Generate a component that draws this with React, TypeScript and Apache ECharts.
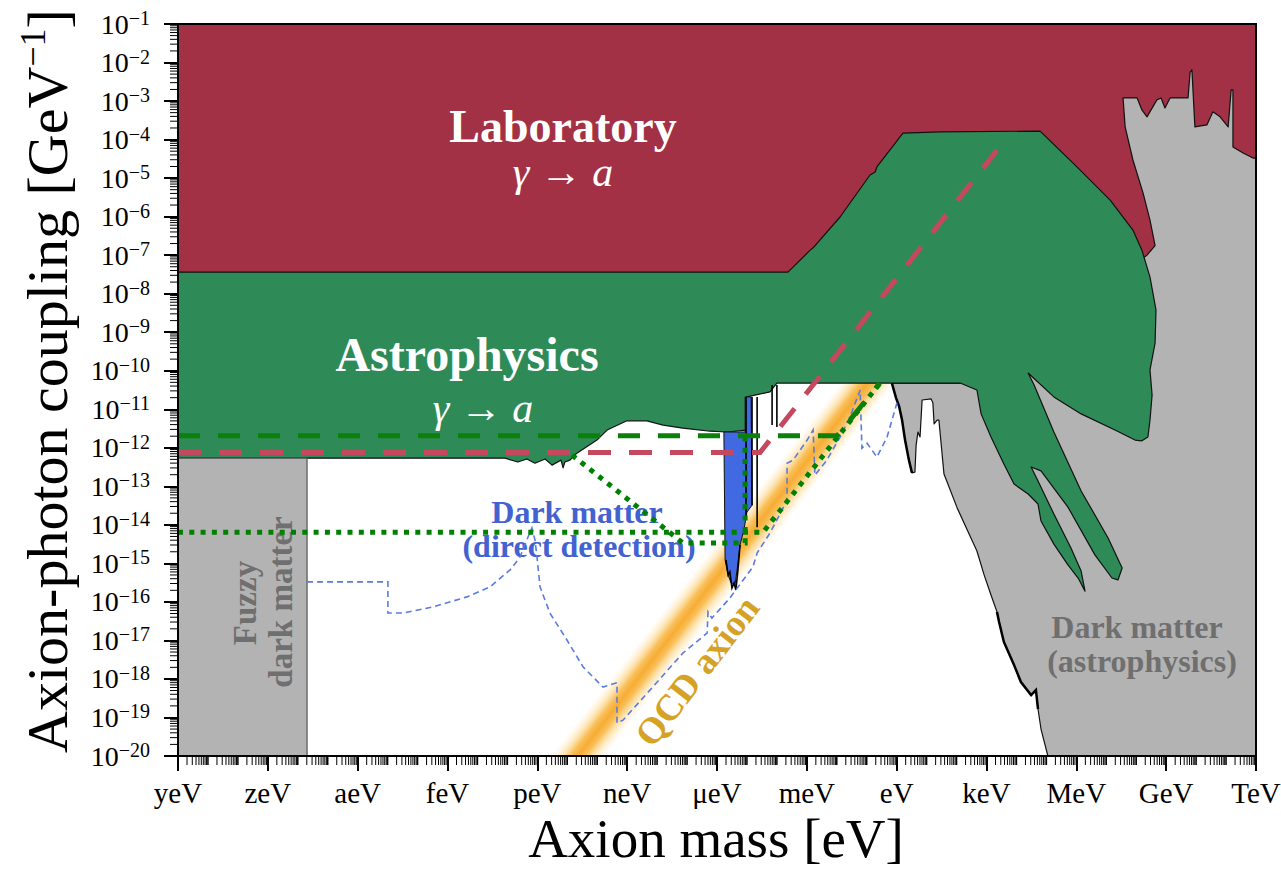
import React, { useEffect, useRef } from 'react';
import * as echarts from 'echarts';

const FONT = '"Liberation Serif", "DejaVu Serif", serif';

// Axes are in decades: x = log10(axion mass / eV), y = log10(coupling / GeV^-1)
const massRange = [-24, 12];
const couplingRange = [-20, -1];
const massTickNames = ['yeV', 'zeV', 'aeV', 'feV', 'peV', 'neV', 'μeV', 'meV', 'eV', 'keV', 'MeV', 'GeV', 'TeV'];

// Laboratory exclusion (photon regeneration, helioscopes, colliders); the lower
// part is covered by the astrophysical and dark-matter regions drawn on top.
const laboratoryRegion = [[-24, -1], [12, -1], [12, -9], [-24, -9]];

// Astrophysical bounds (stars, supernovae, X-ray/gamma observations)
const astrophysicsRegion = [
  [-24, -7.44], [-3.63, -7.44], [-3.46, -7.31], [-2.89, -6.87], [-2.79, -6.81], [-1.89, -6.01],
  [-0.89, -4.92], [-0.72, -4.84], [-0.66, -4.71], [0.21, -3.83], [1.45, -3.80], [4.79, -3.78],
  [6.02, -4.71], [7.13, -5.57], [7.89, -6.35], [8.19, -6.87], [8.46, -7.57], [8.66, -8.42],
  [8.63, -9.28], [8.46, -9.98], [8.53, -10.63], [8.46, -11.28], [8.39, -11.72], [8.19, -11.82],
  [7.96, -11.80], [7.29, -11.54], [6.16, -11.12], [5.25, -10.68], [4.39, -10.06], [4.59, -10.37],
  [5.25, -11.59], [6.16, -13.12], [7.06, -14.34], [7.53, -15.12], [7.39, -15.43], [7.19, -15.38],
  [6.62, -14.78], [5.72, -13.54], [4.82, -12.60], [4.49, -12.50], [4.72, -12.86], [5.25, -13.72],
  [5.82, -14.60], [6.16, -15.20], [6.29, -15.72], [6.06, -15.38], [5.72, -15.04], [5.25, -14.50],
  [4.82, -13.90], [4.72, -13.46], [4.39, -13.20], [3.92, -12.94], [3.58, -12.42], [3.15, -11.72],
  [2.82, -11.12], [2.68, -10.50], [2.12, -10.32], [-4.00, -10.32], [-4.23, -10.55], [-5.00, -10.68],
  [-5.03, -11.54], [-5.67, -11.59], [-6.23, -11.57], [-7.14, -11.49], [-7.80, -11.41], [-8.34, -11.30],
  [-9.01, -11.30], [-9.67, -11.54], [-10.01, -11.80], [-10.68, -12.14], [-10.91, -12.32],
  [-11.08, -12.37], [-11.14, -12.52], [-11.21, -12.32], [-11.51, -12.45], [-11.74, -12.29],
  [-12.08, -12.40], [-12.35, -12.29], [-12.65, -12.37], [-13.08, -12.27], [-24, -12.27],
];

// Dark matter decaying / stimulated-emission bounds (astrophysics)
const darkMatterAstroRegion = [
  [-0.16, -10.32], [-0.02, -10.71], [0.08, -10.92], [0.18, -11.28], [0.28, -11.80], [0.41, -12.32],
  [0.51, -12.65], [0.61, -12.63], [0.65, -11.93], [0.71, -11.59], [0.78, -11.72], [0.85, -10.76],
  [1.15, -10.73], [1.21, -10.84], [1.25, -11.38], [1.35, -11.28], [1.41, -11.28], [1.58, -12.68],
  [2.02, -13.56], [2.48, -14.34], [2.68, -14.68], [2.92, -15.30], [3.15, -15.82], [3.35, -16.26],
  [3.42, -16.52], [3.58, -17.04], [3.92, -17.64], [4.15, -18.08], [4.49, -18.42], [4.65, -18.29],
  [4.72, -18.78], [4.82, -19.30], [5.05, -20], [12, -20], [12, -4.48], [11.90, -4.48], [11.57, -4.35],
  [11.23, -4.19], [11.23, -2.71], [11.17, -2.71], [11.07, -3.67], [10.80, -3.41], [10.56, -3.28],
  [10.36, -3.62], [9.96, -3.67], [9.86, -2.19], [9.80, -2.25], [9.73, -2.92], [9.13, -2.92],
  [8.96, -3.18], [8.83, -2.92], [8.69, -2.97], [8.36, -3.41], [8.19, -3.23], [8.03, -2.92],
  [7.56, -2.92], [7.63, -3.67], [7.89, -4.53], [8.23, -5.39], [8.46, -6.09], [8.63, -6.75],
  [8.36, -7.00], [2.12, -10.32],
];

// Fuzzy dark matter (too light to be all of the dark matter)
const fuzzyRegion = [[-24, -20], [-19.69, -20], [-19.69, -12.27], [-24, -12.27]];

// Haloscope direct-detection exclusions
const haloscopeRegion = [
  [-5.77, -11.59], [-5.06, -11.59], [-5.06, -10.68], [-4.86, -10.68], [-4.83, -13.49], [-5.00, -13.67],
  [-5.10, -14.13], [-5.23, -14.52], [-5.33, -15.17], [-5.40, -15.56], [-5.53, -15.51], [-5.63, -15.30],
  [-5.73, -14.91],
];

// Narrow haloscope limits and jagged edges drawn as thin black traces
const haloscopeTraces = [
  [[-5.03, -10.68], [-5.03, -13.87]],
  [[-4.83, -10.68], [-4.83, -13.49]],
  [[-4.66, -10.68], [-4.66, -14.06]],
  [[-4.16, -10.37], [-4.16, -11.41]],
  [[-4.00, -10.37], [-4.00, -11.46]],
  [[-5.70, -14.91], [-5.63, -15.30], [-5.57, -15.22], [-5.50, -15.64], [-5.43, -15.51], [-5.37, -15.69], [-5.30, -15.17], [-5.23, -14.52]],
];
const darkMatterTraces = [
  [[-0.16, -10.32], [-0.02, -10.71], [0.08, -10.92], [0.18, -11.28], [0.28, -11.80], [0.41, -12.32], [0.51, -12.65]],
  [[3.35, -16.26], [3.42, -16.52], [3.58, -17.04], [3.92, -17.64], [4.15, -18.08], [4.49, -18.42], [4.65, -18.29], [4.72, -18.78]],
];

// QCD axion band: centre line end points and half width (in mass decades)
const qcdBandCentre = [[-0.97, -10.32], [-11.65, -21]];
const qcdBandHalfWidth = 0.9;

// Future sensitivities
const labProjection = [[-24, -12.12], [-4.56, -12.12], [3.62, -4.01]];
const astroProjection = [[-24, -11.69], [-1.99, -11.69], [-0.56, -10.32]];
const dmProjectionA = [[-24, -14.19], [-4.46, -14.19], [-0.56, -10.32]];
const dmProjectionB = [[-10.84, -12.19], [-7.14, -14.47], [-5.06, -14.47], [-5.06, -11.62]];
const haloscopeProjection = [
  [-19.69, -15.48], [-16.99, -15.48], [-16.99, -16.29], [-16.49, -16.29], [-15.48, -16.13], [-14.35, -15.87],
  [-13.58, -15.61], [-12.91, -15.17], [-12.58, -14.84], [-12.35, -14.39], [-12.18, -14.08], [-12.08, -14.39],
  [-12.01, -14.84], [-11.91, -15.61], [-11.58, -16.29], [-11.01, -16.99], [-10.47, -17.69], [-9.81, -18.21],
  [-9.34, -18.10], [-9.34, -19.14], [-9.14, -19.07], [-8.24, -18.29], [-7.14, -17.33], [-6.33, -16.81],
  [-6.30, -16.26], [-6.17, -16.42], [-5.57, -15.90], [-4.80, -15.09], [-4.66, -14.73], [-4.23, -14.21],
  [-4.00, -13.87], [-3.66, -13.36], [-3.66, -12.40], [-3.46, -12.32], [-2.99, -11.80], [-2.79, -11.54],
  [-2.73, -12.71], [-2.33, -12.32], [-1.89, -11.72], [-1.56, -11.20], [-1.22, -10.50], [-1.16, -12.01],
  [-0.99, -11.88], [-0.66, -12.24], [-0.32, -11.72], [0.05, -10.73],
];

const RED = '#a33145';
const GREEN = '#2e8b57';
const GREY = '#b3b3b3';

function regionSeries(pts: number[][], fill: string, stroke?: string, lineWidth?: number) {
  return {
    type: 'custom',
    silent: true,
    clip: true,
    z: 2,
    data: pts,
    renderItem: (params: any, api: any) => {
      if (params.dataIndex !== 0) return null;
      return {
        type: 'polygon',
        shape: { points: pts.map((p) => api.coord(p)) },
        style: { fill, stroke: stroke || 'none', lineWidth: lineWidth || 0, lineJoin: 'round' },
      };
    },
  };
}

function lineSeries(pts: number[][], color: string, width: number, dash: any, z = 4) {
  return {
    type: 'line',
    data: pts,
    symbol: 'none',
    showSymbol: false,
    silent: true,
    clip: true,
    z,
    lineStyle: { color, width, type: dash, cap: 'butt', join: 'miter' },
  };
}

const bandSeries = {
  type: 'custom',
  silent: true,
  clip: true,
  z: 2,
  data: qcdBandCentre,
  renderItem: (params: any, api: any) => {
    if (params.dataIndex !== 0) return null;
    const [a, b] = qcdBandCentre;
    const w = qcdBandHalfWidth;
    const pts = [[a[0] - w, a[1]], [b[0] - w, b[1]], [b[0] + w, b[1]], [a[0] + w, a[1]]].map((p) => api.coord(p));
    const pa = api.coord(a);
    const pb = api.coord(b);
    const dx = pb[0] - pa[0];
    const dy = pb[1] - pa[1];
    const len = Math.hypot(dx, dy);
    const nx = -dy / len;
    const ny = dx / len;
    const hw = api.coord([a[0] + w, a[1]])[0] - pa[0];
    const ph = (hw * Math.abs(dy)) / len;
    const mx = (pa[0] + pb[0]) / 2;
    const my = (pa[1] + pb[1]) / 2;
    const grad = new echarts.graphic.LinearGradient(
      mx - nx * ph, my - ny * ph, mx + nx * ph, my + ny * ph,
      [
        { offset: 0, color: 'rgba(255,224,160,0)' },
        { offset: 0.18, color: 'rgba(253,210,125,0.45)' },
        { offset: 0.36, color: 'rgba(249,186,75,0.92)' },
        { offset: 0.5, color: 'rgba(247,172,52,1)' },
        { offset: 0.64, color: 'rgba(249,186,75,0.92)' },
        { offset: 0.82, color: 'rgba(253,210,125,0.45)' },
        { offset: 1, color: 'rgba(255,224,160,0)' },
      ],
      true
    );
    return { type: 'polygon', shape: { points: pts }, style: { fill: grad } };
  },
};

// Log-spaced minor ticks and the frame around the plotting area
const tickSeries = {
  type: 'custom',
  silent: true,
  clip: false,
  z: 6,
  data: [[massRange[0], couplingRange[0]]],
  renderItem: (params: any, api: any) => {
    if (params.dataIndex !== 0) return null;
    const children: any[] = [];
    for (let n = massRange[0]; n < massRange[1]; n++) {
      for (let k = 1; k <= 9; k++) {
        if (k === 1 && n % 3 === 0) continue;
        const p = api.coord([n + Math.log10(k), couplingRange[0]]);
        children.push({
          type: 'line',
          shape: { x1: p[0], y1: p[1], x2: p[0], y2: p[1] + 9 },
          style: { stroke: '#000', lineWidth: k === 1 ? 1.5 : 1 },
        });
      }
    }
    for (let n = couplingRange[0]; n < couplingRange[1]; n++) {
      for (let k = 2; k <= 9; k++) {
        const p = api.coord([massRange[0], n + Math.log10(k)]);
        children.push({
          type: 'line',
          shape: { x1: p[0] - 8, y1: p[1], x2: p[0], y2: p[1] },
          style: { stroke: '#000', lineWidth: 1 },
        });
      }
    }
    const tl = api.coord([massRange[0], couplingRange[1]]);
    const br = api.coord([massRange[1], couplingRange[0]]);
    children.push({
      type: 'rect',
      shape: { x: tl[0], y: tl[1], width: br[0] - tl[0], height: br[1] - tl[1] },
      style: { fill: 'none', stroke: '#000', lineWidth: 2 },
    });
    return { type: 'group', children };
  },
};

function label(text: string, x: number, y: number, size: number, fill: string, opts: any = {}) {
  return {
    type: 'text',
    x,
    y,
    z: 3,
    rotation: opts.rotation || 0,
    silent: true,
    style: {
      text,
      fill,
      fontSize: size,
      fontFamily: FONT,
      fontWeight: opts.weight || 'bold',
      fontStyle: opts.style || 'normal',
      align: 'center',
      verticalAlign: 'middle',
    },
  };
}

function buildOption() {
  const bandAngle = Math.atan2(371, 285);
  return {
    animation: false,
    backgroundColor: '#ffffff',
    grid: { left: 178, top: 24, width: 1078, height: 732, containLabel: false, outerBoundsMode: 'none' },
    xAxis: {
      type: 'value',
      min: massRange[0],
      max: massRange[1],
      interval: 3,
      axisLine: { show: false, onZero: false },
      splitLine: { show: false },
      axisTick: { show: true, length: 15, lineStyle: { color: '#000', width: 2 } },
      axisLabel: {
        color: '#000',
        fontFamily: FONT,
        fontSize: 29,
        margin: 22,
        formatter: (v: number) => massTickNames[Math.round((v - massRange[0]) / 3)] || '',
      },
    },
    yAxis: {
      type: 'value',
      min: couplingRange[0],
      max: couplingRange[1],
      interval: 1,
      axisLine: { show: false, onZero: false },
      splitLine: { show: false },
      axisTick: { show: true, length: 14, lineStyle: { color: '#000', width: 2 } },
      axisLabel: {
        margin: 28,
        formatter: (v: number) => `{b|10}{s|−${Math.round(-v)}}`,
        rich: {
          b: { fontFamily: FONT, fontSize: 28, lineHeight: 32, color: '#000' },
          s: { fontFamily: FONT, fontSize: 20, lineHeight: 20, color: '#000', verticalAlign: 'top' },
        },
      },
    },
    graphic: [
      label('Laboratory', 563, 126, 46, '#ffffff'),
      label('γ → a', 563, 172, 42, '#ffffff', { weight: 'normal', style: 'italic' }),
      label('Astrophysics', 467, 354, 48, '#ffffff'),
      label('γ → a', 483, 408, 42, '#ffffff', { weight: 'normal', style: 'italic' }),
      label('Dark matter', 577, 512, 32, '#4262d0'),
      label('(direct detection)', 579, 546, 32, '#4262d0'),
      label('Dark matter', 1137, 627, 32, '#6f6f6f'),
      label('(astrophysics)', 1142, 661, 32, '#6f6f6f'),
      label('Fuzzy', 245, 603, 33, '#6f6f6f', { rotation: Math.PI / 2 }),
      label('dark matter', 281, 602, 33, '#6f6f6f', { rotation: Math.PI / 2 }),
      label('QCD axion', 697, 671, 37, '#d6a226', { rotation: bandAngle }),
      label('Axion mass [eV]', 716, 838, 55, '#000000', { weight: 'normal' }),
      {
        type: 'text',
        x: 47,
        y: 381,
        z: 3,
        rotation: Math.PI / 2,
        silent: true,
        style: {
          text: '{a|Axion-photon coupling [GeV}{s|−1}{a|]}',
          align: 'center',
          verticalAlign: 'middle',
          fill: '#000',
          rich: {
            a: { fontFamily: FONT, fontSize: 58, lineHeight: 64, fill: '#000' },
            s: { fontFamily: FONT, fontSize: 36, lineHeight: 36, fill: '#000', verticalAlign: 'top' },
          },
        },
      },
    ],
    series: [
      regionSeries(laboratoryRegion, RED),
      bandSeries,
      regionSeries(darkMatterAstroRegion, GREY, '#111', 1.2),
      regionSeries(astrophysicsRegion, GREEN, '#111', 1.2),
      regionSeries(fuzzyRegion, GREY, '#555', 1.2),
      regionSeries(haloscopeRegion, '#4169e1', '#111', 1),
      ...haloscopeTraces.map((t) => lineSeries(t, '#000', 1.6, 'solid', 2)),
      ...darkMatterTraces.map((t) => lineSeries(t, '#000', 2.5, 'solid', 2)),
      lineSeries(haloscopeProjection, '#5a7be0', 1.6, [6, 4]),
      lineSeries(dmProjectionA, '#008000', 5, [5, 6.3]),
      lineSeries(dmProjectionB, '#008000', 5, [5, 6.3]),
      lineSeries(astroProjection, '#0b800b', 5, [22, 18]),
      lineSeries(labProjection, '#c4485e', 5, [23, 18]),
      tickSeries,
    ],
  };
}

export default function App() {
  const ref = useRef<HTMLDivElement>(null);
  useEffect(() => {
    const chart = echarts.init(ref.current as HTMLDivElement, null, { renderer: 'svg' });
    chart.setOption(buildOption() as any);
    return () => chart.dispose();
  }, []);
  return (
    <div
      ref={ref}
      style={{ position: 'fixed', left: 0, top: 0, width: 1281, height: 869, background: '#fff' }}
    />
  );
}
